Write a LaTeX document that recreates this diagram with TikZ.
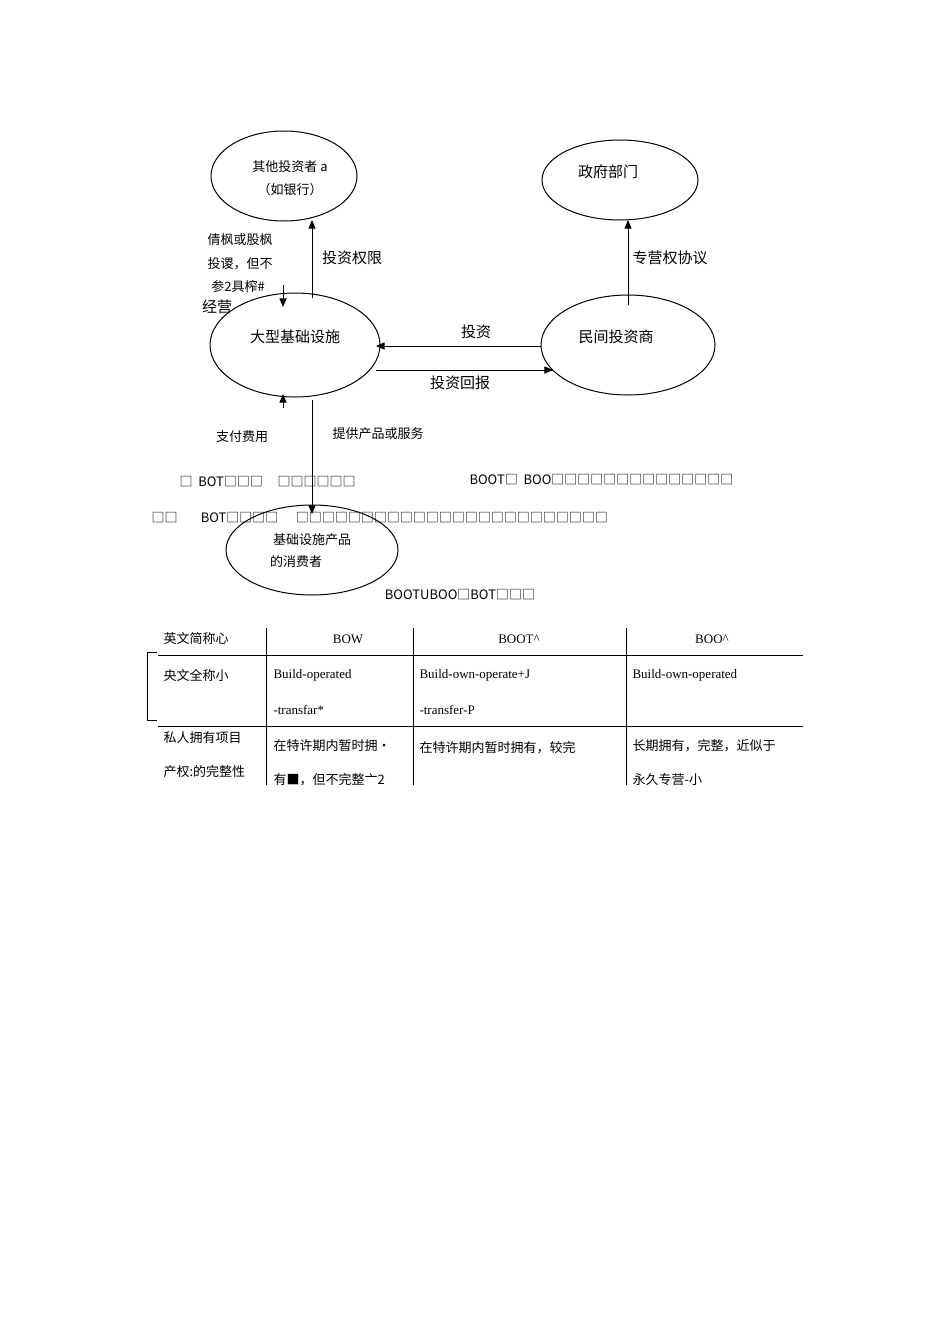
\documentclass[tikz,border=0pt]{standalone}
\usepackage{fontspec}
\setmainfont{Liberation Serif}
\newfontfamily\cjk{Noto Sans CJK SC}
\usetikzlibrary{arrows}
\begin{document}
\begin{tikzpicture}[x=1pt, y=-1pt, font=\cjk]
            \tikzstyle{tran} = [-triangle 45, line width=1pt]
            \tikzstyle{lab}  = [font=\cjk\fontsize{15}{15}\selectfont]
            \tikzstyle{note} = [font=\cjk\fontsize{13}{13}\selectfont]
            \tikzstyle{cell} = [font=\fontsize{13}{13}\selectfont, anchor=west]

            \useasboundingbox (0,0) rectangle (950,1344);

            % Ellipses
            \draw[line width=1pt] (284,176) ellipse [x radius=73, y radius=45];
            \draw[line width=1pt] (620,180) ellipse [x radius=78, y radius=40];
            \draw[line width=1pt] (295,345) ellipse [x radius=85, y radius=52];
            \draw[line width=1pt] (628,345) ellipse [x radius=87, y radius=50];
            \draw[line width=1pt] (312,550) ellipse [x radius=86, y radius=45];
            \node[note] (inv) at (290,167) {其他投资者 a};
            \node[note] (bank) at (290,190) {（如银行）};
            \node[lab] (gov) at (608,172) {政府部门};
            \node[lab] (infra) at (295,337) {大型基础设施};
            \node[lab] (priv) at (616,337) {民间投资商};
            \node[note] (cons1) at (312,540) {基础设施产品};
            \node[note] (cons2) at (296,562) {的消费者};

            % Arrows
            \coordinate (a1) at (312,298);  \coordinate (a2) at (312,220);
            \coordinate (b1) at (283,285);  \coordinate (b2) at (283,307);
            \coordinate (c1) at (628,305);  \coordinate (c2) at (628,220);
            \coordinate (d1) at (541,346);  \coordinate (d2) at (376,346);
            \coordinate (e1) at (376,370);  \coordinate (e2) at (553,370);
            \coordinate (f1) at (283,408);  \coordinate (f2) at (283,394);
            \coordinate (g1) at (312,400);  \coordinate (g2) at (312,514);
            \draw[tran] (a1) -- (a2);
            \draw[tran] (b1) -- (b2);
            \draw[tran] (c1) -- (c2);
            \draw[tran] (d1) -- (d2);
            \draw[tran] (e1) -- (e2);
            \draw[tran] (f1) -- (f2);
            \draw[tran] (g1) -- (g2);

            % Labels
            \node[note] (l1) at (240,240) {倩枫或股枫};
            \node[note] (l2) at (240,264) {投谡，但不};
            \node[note] (l3) at (238,287) {参2具榨\#};
            \node[lab] (l4) at (217,307) {经营};
            \node[lab] (l5) at (352,258) {投资权限};
            \node[lab] (l6) at (670,258) {专营权协议};
            \node[lab] (l7) at (476,332) {投资};
            \node[lab] (l8) at (460,383) {投资回报};
            \node[note] (l9) at (242,437) {支付费用};
            \node[note] (l10) at (378,434) {提供产品或服务};
            \node[note, anchor=west] (l11) at (176,482) {□\ \ BOT□□□\ \ \ \ \ □□□□□□};
            \node[note, anchor=west] (l12) at (466,480) {BOOT□\ \ BOO□□□□□□□□□□□□□□};
            \node[note, anchor=west] (l13) at (148,518) {□□\ \ \ \ \ \ \ \ BOT□□□□\ \ \ \ \ \ □□□□□□□□□□□□□□□□□□□□□□□□};
            \node[note] (l14) at (460,595) {BOOTUBOO□BOT□□□};

            % Table
            \draw (158,655) -- (803,655);
            \draw (158,726) -- (803,726);
            \foreach \x in {266,413,626}
                \draw (\x,628) -- (\x,785);
            \draw[thick] (157,652) -- (147,652) -- (147,720) -- (157,720);
            \node[cell] (h0) at (160,639) {\cjk 英文简称心};
            \node[font=\fontsize{13}{13}\selectfont] (h1) at (348,639) {BOW};
            \node[font=\fontsize{13}{13}\selectfont] (h2) at (519,639) {BOOT\^{}};
            \node[font=\fontsize{13}{13}\selectfont] (h3) at (712,639) {BOO\^{}};
            \node[cell] (r1) at (160,675) {\cjk 央文全称小};
            \node[cell] (r11) at (270,675) {Build-operated};
            \node[cell] (r12) at (270,710) {-transfar*};
            \node[cell] (r13) at (416,675) {Build-own-operate+J};
            \node[cell] (r14) at (416,710) {-transfer-P};
            \node[cell] (r15) at (629,675) {Build-own-operated};
            \node[cell] (r2) at (160,738) {\cjk 私人拥有项目};
            \node[cell] (r21) at (160,772) {\cjk 产权:的完整性};
            \node[cell] (r22) at (270,746) {\cjk 在特许期内暂时拥•};
            \node[cell] (r23) at (270,780) {\cjk 有■，但不完整亠2};
            \node[cell] (r24) at (416,748) {\cjk 在特许期内暂时拥有，较完};
            \node[cell] (r25) at (629,746) {\cjk 长期拥有，完整，近似于};
            \node[cell] (r26) at (629,780) {\cjk 永久专营-小};
            \fill[white] (150,785) rectangle (810,800);
\end{tikzpicture}
\end{document}
